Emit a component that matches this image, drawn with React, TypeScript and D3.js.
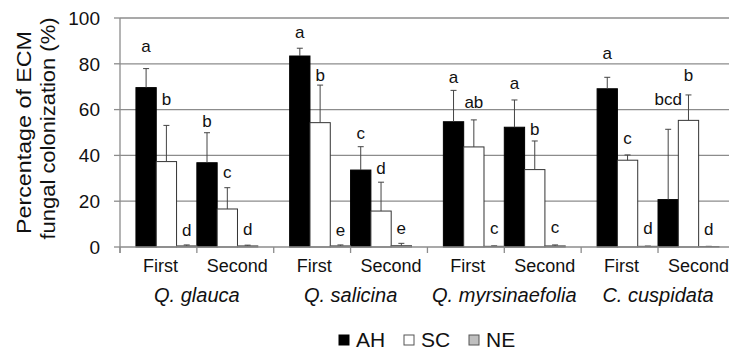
import React from 'react'
import * as d3 from 'd3'

// species along the x axis, each split into First / Second
const species = ['Q. glauca', 'Q. salicina', 'Q. myrsinaefolia', 'C. cuspidata']
const periods = ['First', 'Second']
const seriesNames = ['AH', 'SC', 'NE']
const yTicks = [0, 20, 40, 60, 80, 100]

// values in order: glauca First, glauca Second, salicina First, ...
const ahMean = [69.6, 36.8, 83.4, 33.6, 54.7, 52.3, 69.1, 20.7]
const ahErr = [8.3, 13.1, 3.4, 10.2, 13.7, 11.9, 5.0, 30.7]
const scMean = [37.3, 16.6, 54.3, 15.7, 43.7, 33.8, 37.9, 55.3]
const scErr = [15.8, 9.3, 16.4, 12.6, 11.8, 12.5, 2.3, 11.1]
const neMean = [0.5, 0.5, 0.5, 0.6, 0.3, 0.5, 0.3, 0.2]
const neErr = [0.4, 0.3, 0.4, 1.0, 0.2, 0.4, 0.1, 0.1]

// significance letters and their heights (in %)
const ahLetters = ['a', 'b', 'a', 'c', 'a', 'a', 'a', 'bcd']
const ahLetterY = [87.8, 55.2, 93.9, 49.9, 74.1, 71.5, 84.6, 64.5]
const scLetters = ['b', 'c', 'b', 'd', 'ab', 'b', 'c', 'b']
const scLetterY = [64.6, 32.9, 75.1, 34.6, 63.5, 51.7, 47.7, 75.1]
const neLetters = ['d', 'd', 'e', 'e', 'c', 'c', 'd', 'd']
const neLetterY = [7.4, 7.7, 7.4, 8.2, 8.4, 8.6, 8.4, 7.7]

const fills = ['#000000', '#ffffff', '#bfbfbf']
const strokes = ['#000000', '#333333', '#555555']

const W = 729
const H = 350
const font = 'Liberation Sans, Arial, sans-serif'
const gridColor = '#8c8c8c'

const App: React.FC = () => {
  const left = 120
  const catStep = 76.86
  const right = left + catStep * 8

  const y = d3.scaleLinear().domain([0, 100]).range([247, 18])

  const xSpecies = d3.scaleBand<string>()
    .domain(species)
    .range([left, right])
    .paddingInner(0)
    .paddingOuter(0)

  // 8 sub categories, used for ticks and First/Second labels
  const cats = species.flatMap(s => periods.map(p => `${s}|${p}`))
  const xCat = d3.scaleBand<string>().domain(cats).range([left, right])

  // bars inside each species band: 6 adjacent bars
  const barKeys = periods.flatMap(p => seriesNames.map(n => `${p}|${n}`))
  const xBar = d3.scaleBand<string>()
    .domain(barKeys)
    .range([0, xSpecies.bandwidth()])
    .paddingInner(0)
    .paddingOuter(0.785)

  const series = [
    { name: 'AH', mean: ahMean, err: ahErr, letters: ahLetters, letterY: ahLetterY },
    { name: 'SC', mean: scMean, err: scErr, letters: scLetters, letterY: scLetterY },
    { name: 'NE', mean: neMean, err: neErr, letters: neLetters, letterY: neLetterY },
  ]

  const bw = xBar.bandwidth()
  const barX = (i: number, name: string) => {
    const s = species[Math.floor(i / 2)]
    const p = periods[i % 2]
    return (xSpecies(s) || 0) + (xBar(`${p}|${name}`) || 0)
  }

  const legendX = [339, 404, 469]

  return (
    <svg width={W} height={H} style={{ position: 'absolute', left: 0, top: 0, background: '#fff' }}>
      <style>{'body{margin:0}'}</style>

      {/* gridlines */}
      {yTicks.filter(t => t > 0).map(t => (
        <line key={t} x1={left} x2={W} y1={y(t)} y2={y(t)} stroke={gridColor} strokeWidth={1.3} />
      ))}

      {/* y axis */}
      <line x1={left} x2={left} y1={y(100)} y2={y(0) + 6} stroke={gridColor} strokeWidth={1.3} />
      {yTicks.map(t => (
        <g key={t}>
          <line x1={left - 6} x2={left} y1={y(t)} y2={y(t)} stroke={gridColor} strokeWidth={1.3} />
          <text x={100} y={y(t)} dy="0.36em" textAnchor="end" fontFamily={font} fontSize={19} fill="#111">
            {t}
          </text>
        </g>
      ))}

      {/* bars */}
      {series.map((s, si) =>
        s.mean.map((v, i) => (
          <rect
            key={`${s.name}-${i}`}
            x={barX(i, s.name)}
            y={y(v)}
            width={bw}
            height={y(0) - y(v)}
            fill={fills[si]}
            stroke={strokes[si]}
            strokeWidth={1}
          />
        ))
      )}

      {/* error bars */}
      {series.map((s, si) =>
        s.mean.map((v, i) => {
          const cx = barX(i, s.name) + bw / 2
          return (
            <g key={`e-${s.name}-${i}`} stroke="#444" strokeWidth={1}>
              <line x1={cx} x2={cx} y1={y(v)} y2={y(v + s.err[i])} />
              <line x1={cx - 3} x2={cx + 3} y1={y(v + s.err[i])} y2={y(v + s.err[i])} />
            </g>
          )
        })
      )}

      {/* x axis */}
      <line x1={left} x2={W} y1={y(0)} y2={y(0)} stroke={gridColor} strokeWidth={1.3} />
      {cats.map(c => (
        <line key={c} x1={xCat(c)} x2={xCat(c)} y1={y(0)} y2={y(0) + 6} stroke={gridColor} strokeWidth={1.3} />
      ))}

      {/* letters */}
      {series.map(s =>
        s.letters.map((l, i) => (
          <text
            key={`l-${s.name}-${i}`}
            x={barX(i, s.name) + bw / 2}
            y={y(s.letterY[i])}
            dy="0.36em"
            textAnchor="middle"
            fontFamily={font}
            fontSize={17}
            fill="#111"
          >
            {l}
          </text>
        ))
      )}

      {/* First / Second labels */}
      {cats.map(c => (
        <text
          key={`c-${c}`}
          x={(xCat(c) || 0) + xCat.bandwidth() / 2 + 2}
          y={272}
          textAnchor="middle"
          fontFamily={font}
          fontSize={18}
          fill="#111"
        >
          {c.split('|')[1]}
        </text>
      ))}

      {/* species labels */}
      {species.map(s => (
        <text
          key={`s-${s}`}
          x={(xSpecies(s) || 0) + xSpecies.bandwidth() / 2}
          y={302}
          textAnchor="middle"
          fontFamily={font}
          fontStyle="italic"
          fontSize={20}
          fill="#111"
        >
          {s}
        </text>
      ))}

      {/* y axis title */}
      <g transform={`translate(0, ${(y(0) + y(100)) / 2}) rotate(-90)`} fontFamily={font} fontSize={21} fill="#111">
        <text x={0} y={31} textAnchor="middle" textLength={203} lengthAdjust="spacingAndGlyphs">Percentage of ECM</text>
        <text x={4} y={55} textAnchor="middle" textLength={222} lengthAdjust="spacingAndGlyphs">fungal colonization (%)</text>
      </g>

      {/* legend */}
      {seriesNames.map((name, i) => (
        <g key={name}>
          <rect x={legendX[i]} y={335} width={10} height={10} fill={fills[i]} stroke={i === 0 ? '#000' : '#555'} strokeWidth={1} />
          <text x={legendX[i] + 17} y={347} fontFamily={font} fontSize={21} fill="#111">
            {name}
          </text>
        </g>
      ))}
    </svg>
  )
}

export default App
